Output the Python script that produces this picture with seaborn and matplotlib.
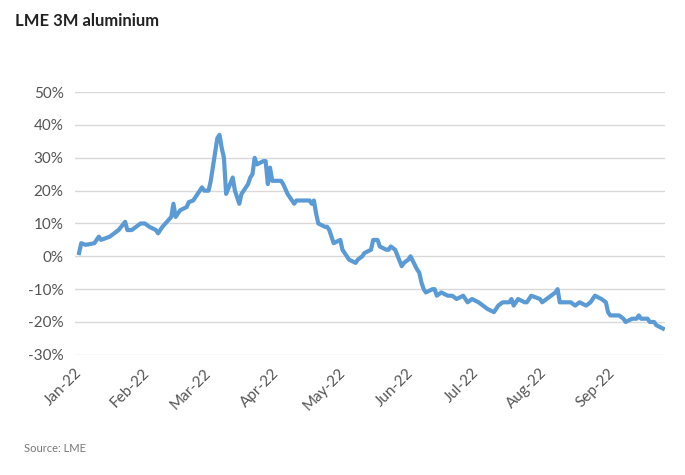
import matplotlib
matplotlib.use("Agg")
import matplotlib.pyplot as plt
import matplotlib.dates as mdates
import seaborn as sns
import pandas as pd

dates = ["2022-01-03","2022-01-04","2022-01-06","2022-01-10","2022-01-12","2022-01-13","2022-01-17","2022-01-19","2022-01-21","2022-01-24","2022-01-25","2022-01-27","2022-01-31",
"2022-02-02","2022-02-04","2022-02-07","2022-02-08","2022-02-10","2022-02-14","2022-02-15","2022-02-16","2022-02-18","2022-02-21","2022-02-22","2022-02-24","2022-02-25","2022-02-28",
"2022-03-01","2022-03-03","2022-03-04","2022-03-07","2022-03-08","2022-03-09","2022-03-10","2022-03-11","2022-03-14","2022-03-15","2022-03-17","2022-03-18","2022-03-21","2022-03-22","2022-03-23","2022-03-24","2022-03-25","2022-03-28","2022-03-29","2022-03-30","2022-03-31",
"2022-04-01","2022-04-04","2022-04-05","2022-04-06","2022-04-08","2022-04-11","2022-04-12","2022-04-13","2022-04-18","2022-04-19","2022-04-20","2022-04-21","2022-04-22","2022-04-25","2022-04-26","2022-04-27","2022-04-28","2022-04-29",
"2022-05-02","2022-05-03","2022-05-05","2022-05-06","2022-05-09","2022-05-10","2022-05-12","2022-05-13","2022-05-16","2022-05-17","2022-05-18","2022-05-19","2022-05-20","2022-05-23","2022-05-24","2022-05-25","2022-05-27","2022-05-30","2022-05-31",
"2022-06-02","2022-06-03","2022-06-06","2022-06-07","2022-06-08","2022-06-09","2022-06-10","2022-06-13","2022-06-14","2022-06-15","2022-06-17","2022-06-20","2022-06-22","2022-06-24","2022-06-27","2022-06-29",
"2022-07-01","2022-07-04","2022-07-06","2022-07-08","2022-07-11","2022-07-13","2022-07-15","2022-07-18","2022-07-19","2022-07-20","2022-07-22","2022-07-25","2022-07-26","2022-07-28",
"2022-08-01","2022-08-02","2022-08-04","2022-08-08","2022-08-09","2022-08-10","2022-08-12","2022-08-15","2022-08-17","2022-08-19","2022-08-22","2022-08-24","2022-08-26","2022-08-29","2022-08-31",
"2022-09-01","2022-09-02","2022-09-06","2022-09-08","2022-09-09","2022-09-12","2022-09-14","2022-09-15","2022-09-16","2022-09-19","2022-09-20","2022-09-22","2022-09-23","2022-09-26"]
values = [1,4,3.5,4,6,5,6,7,8,10.5,8,8,10,
10,9,8,7,9,12,16,12,14,15,16.5,17,18,21,
20,20,23,36,37,33,30,19,24,20,16,19,22,24,25,30,28,29,29,22,27,
23,23,23,22,19,16,17,17,17,16,17,13,10,9,9,8,6,4,
5,2,0,-1,-2,-1,0,1,2,5,5,5,3,2,2,3,2,-3,-2,
-1,0,-4,-5,-8,-10,-11,-10,-10,-12,-11,-12,-12,-13,-12,-14,
-13,-14,-15,-16,-17,-15,-14,-14,-13,-15,-13,-14,-14,-12,
-13,-14,-13,-11,-10,-14,-14,-14,-15,-14,-15,-14,-12,-13,-14,
-17,-18,-18,-19,-20,-19,-19,-18,-19,-19,-20,-20,-21,-22]
yticks = [-30,-20,-10,0,10,20,30,40,50]

df = pd.DataFrame({"date": pd.to_datetime(dates), "v": values})
plt.rcParams["font.family"] = "Lato"
fig = plt.figure(figsize=(6.85, 4.75), dpi=100)
ax = fig.add_axes([0.109, 0.253, 0.862, 0.553])
sns.lineplot(data=df, x="date", y="v", ax=ax, color="#5B9BD5", linewidth=3)
ax.set_ylim(-30, 50)
ax.set_yticks(yticks)
ax.set_yticklabels([f"{t}%" for t in yticks], fontsize=11, color="#555555")
ax.set_xlim(pd.Timestamp("2022-01-01"), pd.Timestamp("2022-09-27"))
ax.xaxis.set_major_locator(mdates.MonthLocator())
ax.xaxis.set_major_formatter(mdates.DateFormatter("%b-%y"))
plt.setp(ax.get_xticklabels(), rotation=45, ha="right", rotation_mode="anchor", fontsize=11, color="#555555")
ax.grid(axis="y", color="#d9d9d9", linewidth=1)
ax.set_axisbelow(True)
for s in ax.spines.values():
    s.set_visible(False)
ax.tick_params(length=0, pad=8)
ax.set_xlabel(""); ax.set_ylabel("")
fig.text(0.022, 0.945, "LME 3M aluminium", fontsize=12, color="#222222", fontweight="bold")
fig.text(0.035, 0.048, "Source: LME", fontsize=8, color="#777777")
fig.savefig("out.png", dpi=100)
